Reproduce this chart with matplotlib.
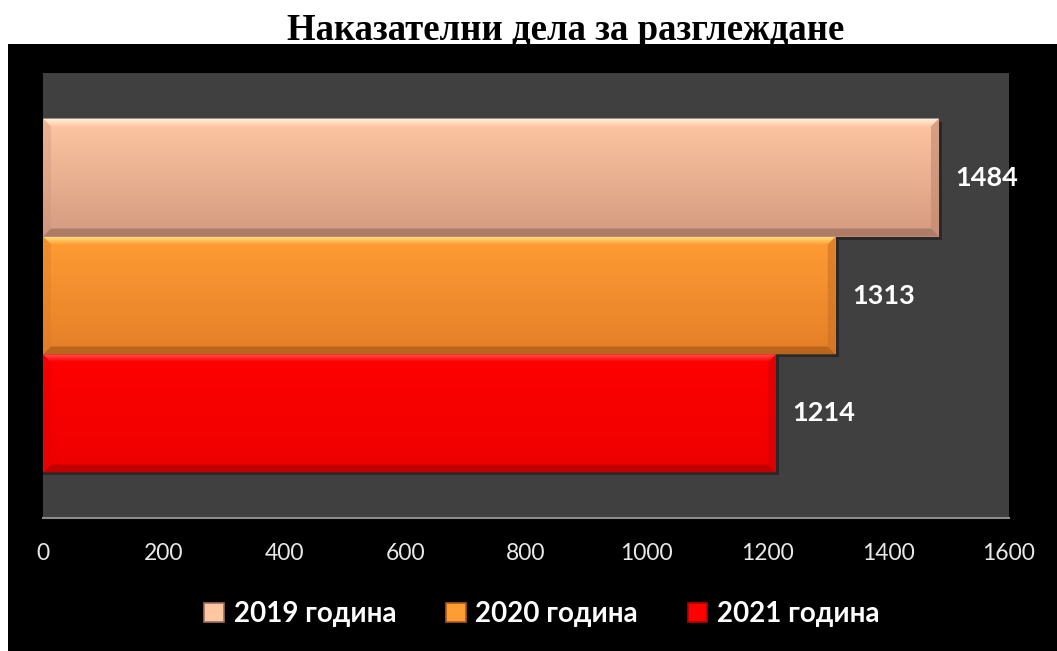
import numpy as np
import matplotlib
matplotlib.use("Agg")
import matplotlib.pyplot as plt
from matplotlib.patches import Rectangle, Patch, Polygon
from matplotlib.colors import to_rgb

# ---- data ----
title = "Наказателни дела за разглеждане"
series_labels = ["2019 година", "2020 година", "2021 година"]
values = [1484, 1313, 1214]
x_ticks = [0, 200, 400, 600, 800, 1000, 1200, 1400, 1600]

# style
top_colors = ["#FFC6A2", "#FF9C34", "#FF0000"]
bot_colors = ["#D39A80", "#E57F28", "#EE0000"]
hi_colors = ["#FFF3DF", "#FFDB7A", "#FF5050"]
edge_dark = ["#9E6E5C", "#A85A18", "#B00000"]

W, H = 1057, 651
fig = plt.figure(figsize=(W / 100, H / 100), dpi=100, facecolor="white")

# black chart area
bg = Rectangle((8 / W, 0), 1 - 8 / W, 1 - 44 / H, transform=fig.transFigure,
               facecolor="black", edgecolor="none", zorder=-10)
fig.add_artist(bg)

ax = fig.add_axes([43 / W, 1 - 518 / H, 966 / W, 445 / H])
ax.set_zorder(2)
ax.set_facecolor("#404040")
for s in ["top", "left", "right"]:
    ax.spines[s].set_visible(False)
ax.spines["bottom"].set_color("#8C8C8C")
ax.spines["bottom"].set_linewidth(1.5)

ypos = [1, 0, -1]
ax.set_xlim(x_ticks[0], x_ticks[-1])
ax.set_ylim(-1.886, 1.886)
bars = ax.barh(ypos, values, height=1.0, color=top_colors, edgecolor="none", zorder=2)

fig.canvas.draw()
px_x = (ax.transData.transform((1, 0))[0] - ax.transData.transform((0, 0))[0])
px_y = (ax.transData.transform((0, 1))[1] - ax.transData.transform((0, 0))[1])
bx = 8 / px_x
by = 8 / px_y


def mix(c1, c2, t):
    a, b = np.array(to_rgb(c1)), np.array(to_rgb(c2))
    return a + (b - a) * t


for i, b in enumerate(bars):
    x0, y0 = b.get_x(), b.get_y()
    x1, y1 = x0 + b.get_width(), y0 + b.get_height()
    n = 64
    tt = np.linspace(0, 1, n)
    grad = np.array([mix(top_colors[i], bot_colors[i], t) for t in tt])[:, None, :]
    im = ax.imshow(grad, extent=(x0, x1, y0, y1), origin="upper", aspect="auto",
                   zorder=3, interpolation="bilinear")
    im.set_clip_path(b)
    # shadow
    ax.add_patch(Rectangle((x0, y0 - 3 / px_y), x1 - x0 + 3 / px_x, y1 - y0,
                           facecolor="black", alpha=0.35, edgecolor="none", zorder=1.5))
    # top bevel with gradient highlight
    top_poly = Polygon([(x0, y1), (x1, y1), (x1 - bx, y1 - by), (x0 + bx, y1 - by)],
                       closed=True, facecolor="none", edgecolor="none", zorder=4)
    ax.add_patch(top_poly)
    tg = np.linspace(0, 1, 16)
    hg = np.array([mix(hi_colors[i], top_colors[i], t) for t in tg])[:, None, :]
    im2 = ax.imshow(hg, extent=(x0, x1, y1 - by, y1), origin="upper", aspect="auto",
                    zorder=4, interpolation="bilinear")
    im2.set_clip_path(top_poly)
    # left bevel (subtle)
    ax.add_patch(Polygon([(x0, y1), (x0 + bx, y1 - by), (x0 + bx, y0 + by), (x0, y0)],
                         closed=True, facecolor=mix(bot_colors[i], edge_dark[i], 0.2),
                         edgecolor="none", alpha=0.35, zorder=4))
    # right bevel
    ax.add_patch(Polygon([(x1, y1), (x1 - bx, y1 - by), (x1 - bx, y0 + by), (x1, y0)],
                         closed=True, facecolor=mix(bot_colors[i], edge_dark[i], 0.4),
                         edgecolor="none", alpha=0.6, zorder=4))
    # bottom bevel
    ax.add_patch(Polygon([(x0, y0), (x1, y0), (x1 - bx, y0 + by), (x0 + bx, y0 + by)],
                         closed=True, facecolor=edge_dark[i], edgecolor="none", alpha=0.7, zorder=4))
    ax.annotate(str(values[i]), (x1, (y0 + y1) / 2), xytext=(12, 0), textcoords="offset points",
                ha="left", va="center", color="white", fontsize=19.5, fontweight="bold",
                family="Lato", zorder=5)

ax.set_yticks([])
ax.set_xticks(x_ticks)
ax.set_xticklabels([str(v) for v in x_ticks], family="Lato", fontsize=16.5, color="#E8E8E8")
ax.tick_params(axis="x", length=0, pad=18)

fig.text(566 / W, 1 - 30 / H, title, ha="center", va="center", family="Liberation Serif",
         fontweight="bold", fontsize=26.5, color="black")

handles = [Patch(facecolor=top_colors[i], edgecolor=edge_dark[i], linewidth=1.2) for i in range(3)]
leg = fig.legend(handles, series_labels, loc="center", bbox_to_anchor=(542 / W, 1 - 614 / H),
                 ncol=3, frameon=False, handlelength=0.7, handleheight=0.7, handletextpad=0.35,
                 columnspacing=1.8, prop={"family": "Lato", "weight": "bold", "size": 20})
leg.set_zorder(5)
for txt in leg.get_texts():
    txt.set_color("white")

fig.savefig("out.png", dpi=100, facecolor="white")
